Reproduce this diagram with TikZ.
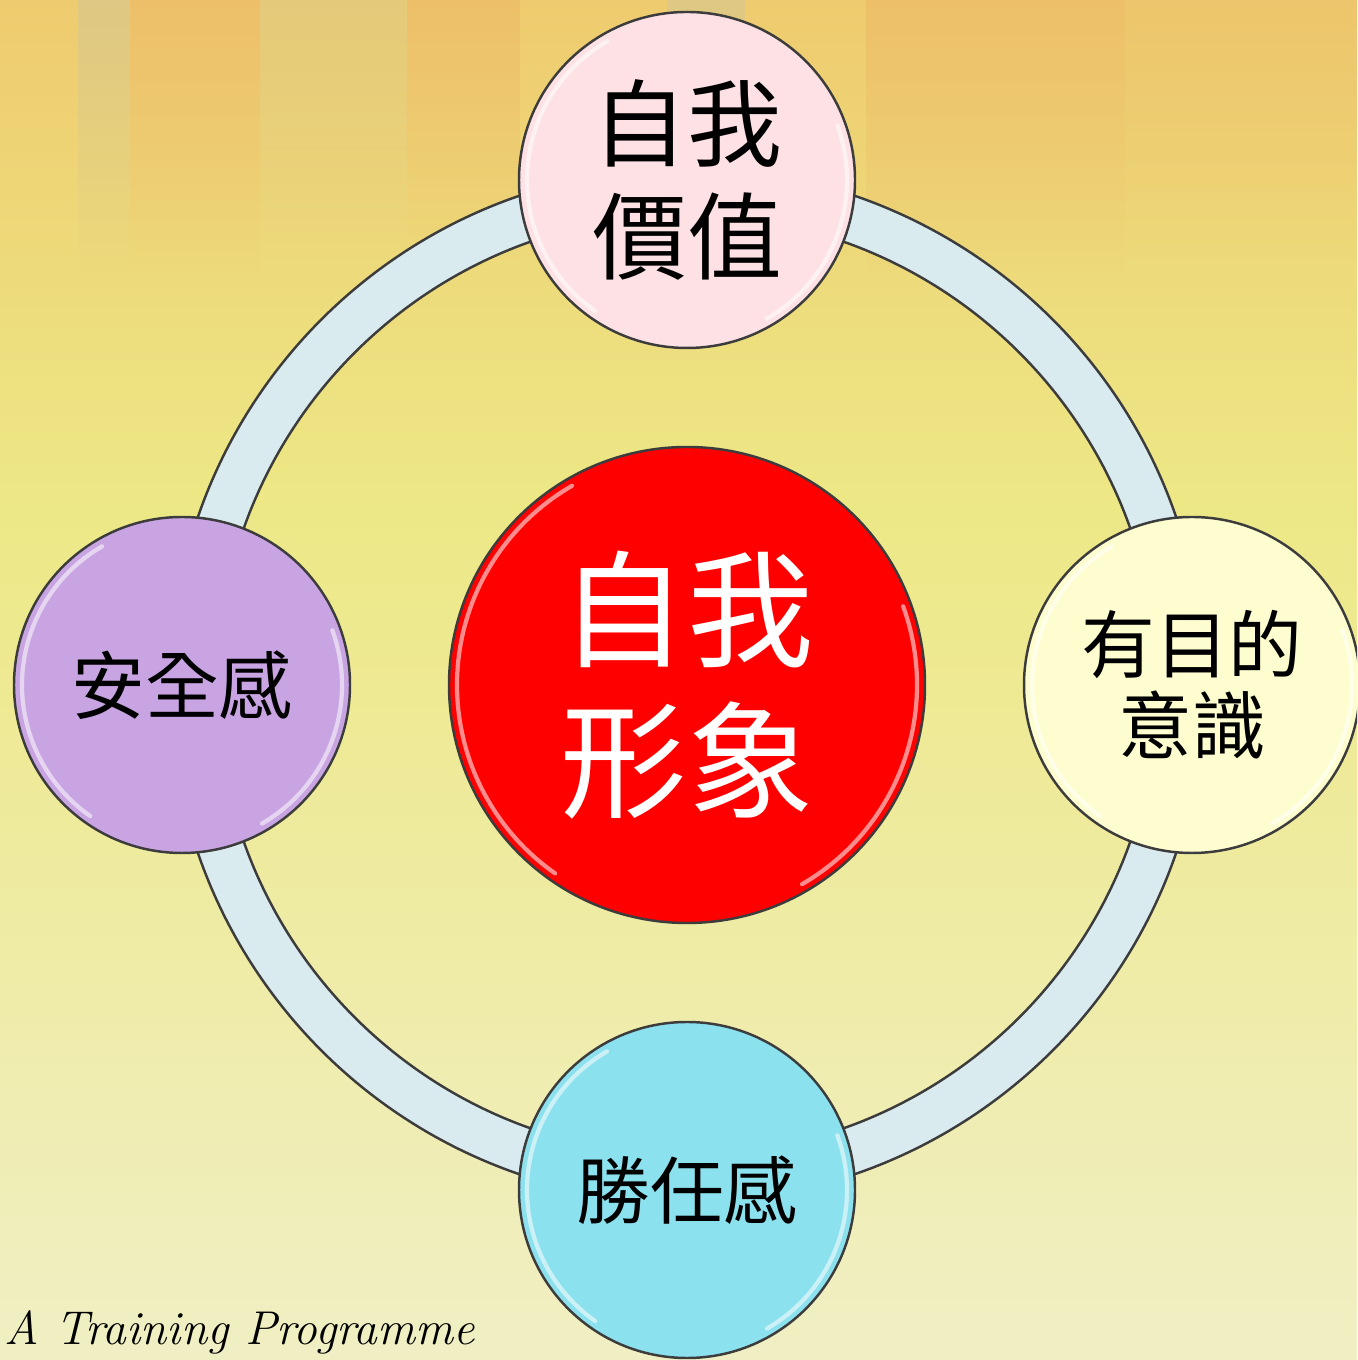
\documentclass[tikz,border=0pt]{standalone}
\usepackage{fontspec}
\newfontfamily\cjk{Noto Sans CJK TC}
\usetikzlibrary{positioning}
\usetikzlibrary{fadings}
\definecolor{bgtop}{HTML}{EECB6E}
\definecolor{bgmid}{HTML}{EDE886}
\definecolor{bgbottom}{HTML}{F0EFC4}
\definecolor{streakgrey}{HTML}{D4C792}
\definecolor{streakorange}{HTML}{EDB867}
\definecolor{ringfill}{HTML}{DAEBEF}
\definecolor{outline}{HTML}{3C3C3C}
\definecolor{worthfill}{HTML}{FDE1E4}
\definecolor{safefill}{HTML}{C9A4E2}
\definecolor{aimfill}{HTML}{FDFDD0}
\definecolor{ablefill}{HTML}{8CE1EE}
\definecolor{selffill}{HTML}{FF0000}
\tikzset{
  ball/.style={circle, draw=outline, line width=0.7pt, minimum size=3.36cm, inner sep=0pt, align=center},
  gloss/.style={white, line width=1.2pt, opacity=0.55, line cap=round},
  streak/.style={path fading=south, opacity=0.6}
}

\begin{document}
\begin{tikzpicture}
            \useasboundingbox (0,0) rectangle (13.57,13.60);
            \clip (0,0) rectangle (13.57,13.60);
            % background
            \fill[bottom color=bgbottom, top color=bgmid] (0,0) rectangle (13.57,8.5);
            \fill[bottom color=bgmid, top color=bgtop] (0,8.5) rectangle (13.57,13.60);
            \fill[streak, streakgrey] (0.78,10.8) rectangle (1.30,13.60);
            \fill[streak, streakorange] (1.30,10.8) rectangle (2.60,13.60);
            \fill[streak, streakgrey!60!bgtop] (2.60,11.0) rectangle (4.07,13.60);
            \fill[streak, streakorange] (4.07,11.0) rectangle (5.20,13.60);
            \fill[streak, streakgrey] (6.67,11.0) rectangle (7.45,13.60);
            \fill[streak, streakorange] (8.66,10.8) rectangle (11.25,13.60);
            \fill[streak, streakorange!50!bgtop] (11.25,11.0) rectangle (13.57,13.60);

            % ring
            \coordinate (C) at (6.87, 6.75);
            \draw[outline, line width=0.7pt, fill=ringfill, even odd rule] (C) circle (5.17) (C) circle (4.70);

            % circles
            \node [ball, fill=selffill, minimum size=4.76cm, font=\cjk\fontsize{36}{43}\selectfont, text=white] (self) at (C) {自我\\形象};
            \node [ball, fill=worthfill, font=\cjk\fontsize{27}{32}\selectfont] (worth) at (6.87, 11.80) {自我\\價值};
            \node [ball, fill=safefill, font=\cjk\fontsize{21}{23}\selectfont] (safe) at (1.82, 6.75) {安全感};
            \node [ball, fill=aimfill, font=\cjk\fontsize{21}{23}\selectfont] (aim) at (11.92, 6.75) {有目的\\意識};
            \node [ball, fill=ablefill, font=\cjk\fontsize{21}{23}\selectfont] (able) at (6.87, 1.70) {勝任感};

            % gloss
            \draw[gloss, shift={(self.center)}] (120:2.30) arc[start angle=120, end angle=235, radius=2.30];
            \draw[gloss, shift={(self.center)}] (-60:2.30) arc[start angle=-60, end angle=20, radius=2.30];
            \draw[gloss, shift={(worth.center)}] (120:1.60) arc[start angle=120, end angle=235, radius=1.60];
            \draw[gloss, shift={(worth.center)}] (-60:1.60) arc[start angle=-60, end angle=20, radius=1.60];
            \draw[gloss, shift={(safe.center)}] (120:1.60) arc[start angle=120, end angle=235, radius=1.60];
            \draw[gloss, shift={(safe.center)}] (-60:1.60) arc[start angle=-60, end angle=20, radius=1.60];
            \draw[gloss, shift={(aim.center)}] (120:1.60) arc[start angle=120, end angle=235, radius=1.60];
            \draw[gloss, shift={(aim.center)}] (-60:1.60) arc[start angle=-60, end angle=20, radius=1.60];
            \draw[gloss, shift={(able.center)}] (120:1.60) arc[start angle=120, end angle=235, radius=1.60];
            \draw[gloss, shift={(able.center)}] (-60:1.60) arc[start angle=-60, end angle=20, radius=1.60];

            \node [anchor=base west, inner sep=0pt, font=\itshape\fontsize{13.5}{16}\selectfont] (prog) at (0.04, 0.15) {A Training Programme};
        \end{tikzpicture}
\end{document}
